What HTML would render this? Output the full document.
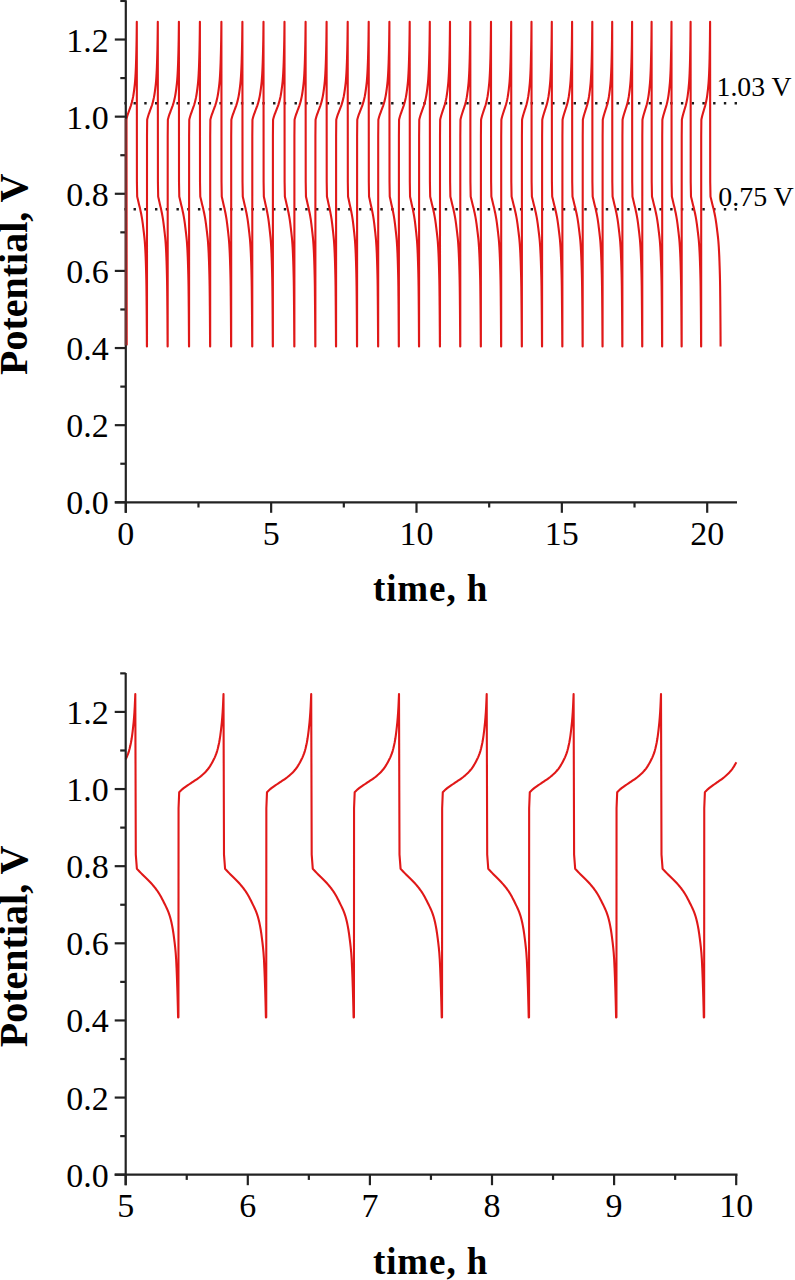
<!DOCTYPE html>
<html><head><meta charset="utf-8"><title>Potential vs time</title>
<style>
html,body{margin:0;padding:0;background:#fff;}
body{width:795px;height:1280px;overflow:hidden;font-family:"Liberation Serif",serif;}
svg{display:block;}
</style></head><body>
<svg width="795" height="1280" viewBox="0 0 795 1280">
<line x1="124.4" y1="103.30" x2="737" y2="103.30" stroke="#1a1a1a" stroke-width="2.4" stroke-dasharray="2.4 8.333" stroke-dashoffset="1.6"/>
<line x1="124.4" y1="209.20" x2="737" y2="209.20" stroke="#1a1a1a" stroke-width="2.4" stroke-dasharray="2.4 8.333" stroke-dashoffset="1.6"/>
<path d="M126.60,345.34 L126.30,119.74 L126.66,118.27 L127.01,116.93 L127.35,115.76 L127.69,114.70 L128.03,113.71 L128.36,112.77 L128.69,111.85 L129.01,110.93 L129.33,110.01 L129.64,109.14 L129.95,108.30 L130.25,107.47 L130.55,106.63 L130.84,105.77 L131.12,104.87 L131.41,103.91 L131.68,102.93 L131.95,101.91 L132.22,100.86 L132.47,99.76 L132.73,98.61 L132.98,97.40 L133.22,96.13 L133.45,94.73 L133.68,93.22 L133.91,91.64 L134.12,90.01 L134.33,88.35 L134.54,86.68 L134.74,84.93 L134.93,83.04 L135.11,80.98 L135.29,78.67 L135.46,76.07 L135.62,73.20 L135.77,70.10 L135.92,66.64 L136.05,62.67 L136.18,58.42 L136.30,54.07 L136.41,49.59 L136.51,44.81 L136.60,39.74 L136.67,34.04 L136.73,28.44 L136.78,23.97 L136.80,21.70 L136.92,182.21 L137.18,196.48 L137.51,197.92 L137.83,199.33 L138.15,200.72 L138.47,202.08 L138.78,203.41 L139.09,204.68 L139.39,205.90 L139.69,207.12 L139.98,208.35 L140.27,209.62 L140.55,210.93 L140.83,212.24 L141.11,213.58 L141.38,214.95 L141.64,216.37 L141.90,217.87 L142.16,219.44 L142.41,221.13 L142.66,222.89 L142.90,224.71 L143.13,226.58 L143.36,228.45 L143.58,230.34 L143.80,232.19 L144.01,234.00 L144.22,235.82 L144.42,237.71 L144.62,239.74 L144.81,241.93 L144.99,244.37 L145.17,247.13 L145.34,250.17 L145.50,253.46 L145.66,257.12 L145.81,261.25 L145.95,265.67 L146.08,270.21 L146.21,274.90 L146.33,280.26 L146.44,286.77 L146.54,295.89 L146.63,305.62 L146.71,315.84 L146.78,325.97 L146.84,335.29 L146.88,342.69 L146.90,346.50 L146.98,346.50 L147.01,135.93 L147.16,119.74 L147.52,118.27 L147.88,116.93 L148.23,115.76 L148.57,114.70 L148.91,113.71 L149.25,112.77 L149.58,111.85 L149.91,110.93 L150.23,110.01 L150.55,109.14 L150.86,108.30 L151.16,107.47 L151.46,106.63 L151.76,105.77 L152.05,104.87 L152.33,103.91 L152.61,102.93 L152.89,101.91 L153.16,100.86 L153.42,99.76 L153.67,98.61 L153.93,97.40 L154.17,96.13 L154.41,94.73 L154.64,93.22 L154.87,91.64 L155.09,90.01 L155.30,88.35 L155.51,86.68 L155.71,84.93 L155.90,83.04 L156.09,80.98 L156.27,78.67 L156.44,76.07 L156.60,73.20 L156.76,70.10 L156.91,66.64 L157.04,62.67 L157.17,58.42 L157.29,54.07 L157.41,49.59 L157.50,44.81 L157.59,39.74 L157.67,34.04 L157.73,28.44 L157.78,23.97 L157.80,21.70 L157.92,182.21 L158.17,196.48 L158.49,197.92 L158.80,199.33 L159.11,200.72 L159.42,202.08 L159.72,203.41 L160.02,204.68 L160.31,205.90 L160.60,207.12 L160.89,208.35 L161.17,209.62 L161.44,210.93 L161.71,212.24 L161.98,213.58 L162.24,214.95 L162.50,216.37 L162.75,217.87 L163.00,219.44 L163.24,221.13 L163.48,222.89 L163.71,224.71 L163.94,226.58 L164.16,228.45 L164.38,230.34 L164.59,232.19 L164.80,234.00 L165.00,235.82 L165.20,237.71 L165.39,239.74 L165.57,241.93 L165.75,244.37 L165.92,247.13 L166.08,250.17 L166.24,253.46 L166.39,257.12 L166.54,261.25 L166.68,265.67 L166.81,270.21 L166.93,274.90 L167.05,280.26 L167.15,286.77 L167.25,295.89 L167.34,305.62 L167.42,315.84 L167.48,325.97 L167.54,335.29 L167.58,342.69 L167.60,346.50 L167.68,346.50 L167.71,135.93 L167.86,119.74 L168.24,118.27 L168.60,116.93 L168.97,115.76 L169.33,114.70 L169.68,113.71 L170.03,112.77 L170.37,111.85 L170.71,110.93 L171.04,110.01 L171.37,109.14 L171.70,108.30 L172.01,107.47 L172.32,106.63 L172.63,105.77 L172.93,104.87 L173.23,103.91 L173.52,102.93 L173.80,101.91 L174.08,100.86 L174.35,99.76 L174.62,98.61 L174.88,97.40 L175.13,96.13 L175.38,94.73 L175.62,93.22 L175.86,91.64 L176.09,90.01 L176.31,88.35 L176.52,86.68 L176.73,84.93 L176.93,83.04 L177.12,80.98 L177.31,78.67 L177.49,76.07 L177.66,73.20 L177.82,70.10 L177.97,66.64 L178.12,62.67 L178.25,58.42 L178.38,54.07 L178.49,49.59 L178.59,44.81 L178.69,39.74 L178.76,34.04 L178.83,28.44 L178.88,23.97 L178.90,21.70 L179.02,182.21 L179.28,196.48 L179.61,197.92 L179.93,199.33 L180.25,200.72 L180.57,202.08 L180.88,203.41 L181.19,204.68 L181.49,205.90 L181.79,207.12 L182.08,208.35 L182.37,209.62 L182.65,210.93 L182.93,212.24 L183.21,213.58 L183.48,214.95 L183.74,216.37 L184.00,217.87 L184.26,219.44 L184.51,221.13 L184.76,222.89 L185.00,224.71 L185.23,226.58 L185.46,228.45 L185.68,230.34 L185.90,232.19 L186.11,234.00 L186.32,235.82 L186.52,237.71 L186.72,239.74 L186.91,241.93 L187.09,244.37 L187.27,247.13 L187.44,250.17 L187.60,253.46 L187.76,257.12 L187.91,261.25 L188.05,265.67 L188.18,270.21 L188.31,274.90 L188.43,280.26 L188.54,286.77 L188.64,295.89 L188.73,305.62 L188.81,315.84 L188.88,325.97 L188.94,335.29 L188.98,342.69 L189.00,346.50 L189.08,346.50 L189.11,135.93 L189.26,119.74 L189.62,118.27 L189.98,116.93 L190.33,115.76 L190.67,114.70 L191.01,113.71 L191.35,112.77 L191.68,111.85 L192.01,110.93 L192.33,110.01 L192.65,109.14 L192.96,108.30 L193.26,107.47 L193.56,106.63 L193.86,105.77 L194.15,104.87 L194.43,103.91 L194.71,102.93 L194.99,101.91 L195.26,100.86 L195.52,99.76 L195.77,98.61 L196.03,97.40 L196.27,96.13 L196.51,94.73 L196.74,93.22 L196.97,91.64 L197.19,90.01 L197.40,88.35 L197.61,86.68 L197.81,84.93 L198.00,83.04 L198.19,80.98 L198.37,78.67 L198.54,76.07 L198.70,73.20 L198.86,70.10 L199.01,66.64 L199.14,62.67 L199.27,58.42 L199.39,54.07 L199.51,49.59 L199.60,44.81 L199.69,39.74 L199.77,34.04 L199.83,28.44 L199.88,23.97 L199.90,21.70 L200.02,182.21 L200.28,196.48 L200.61,197.92 L200.94,199.33 L201.27,200.72 L201.58,202.08 L201.90,203.41 L202.21,204.68 L202.52,205.90 L202.82,207.12 L203.11,208.35 L203.40,209.62 L203.69,210.93 L203.97,212.24 L204.25,213.58 L204.52,214.95 L204.79,216.37 L205.06,217.87 L205.31,219.44 L205.57,221.13 L205.81,222.89 L206.06,224.71 L206.29,226.58 L206.52,228.45 L206.75,230.34 L206.97,232.19 L207.19,234.00 L207.39,235.82 L207.60,237.71 L207.80,239.74 L207.99,241.93 L208.17,244.37 L208.35,247.13 L208.52,250.17 L208.69,253.46 L208.84,257.12 L209.00,261.25 L209.14,265.67 L209.27,270.21 L209.40,274.90 L209.52,280.26 L209.63,286.77 L209.74,295.89 L209.83,305.62 L209.91,315.84 L209.98,325.97 L210.04,335.29 L210.08,342.69 L210.10,346.50 L210.18,346.50 L210.21,135.93 L210.36,119.74 L210.74,118.27 L211.10,116.93 L211.47,115.76 L211.83,114.70 L212.18,113.71 L212.53,112.77 L212.87,111.85 L213.21,110.93 L213.54,110.01 L213.87,109.14 L214.20,108.30 L214.51,107.47 L214.82,106.63 L215.13,105.77 L215.43,104.87 L215.73,103.91 L216.02,102.93 L216.30,101.91 L216.58,100.86 L216.85,99.76 L217.12,98.61 L217.38,97.40 L217.63,96.13 L217.88,94.73 L218.12,93.22 L218.36,91.64 L218.59,90.01 L218.81,88.35 L219.02,86.68 L219.23,84.93 L219.43,83.04 L219.62,80.98 L219.81,78.67 L219.99,76.07 L220.16,73.20 L220.32,70.10 L220.47,66.64 L220.62,62.67 L220.75,58.42 L220.88,54.07 L220.99,49.59 L221.09,44.81 L221.19,39.74 L221.26,34.04 L221.33,28.44 L221.38,23.97 L221.40,21.70 L221.52,182.21 L221.76,196.48 L222.08,197.92 L222.39,199.33 L222.70,200.72 L223.00,202.08 L223.30,203.41 L223.60,204.68 L223.89,205.90 L224.17,207.12 L224.46,208.35 L224.73,209.62 L225.01,210.93 L225.27,212.24 L225.54,213.58 L225.80,214.95 L226.05,216.37 L226.30,217.87 L226.55,219.44 L226.79,221.13 L227.02,222.89 L227.25,224.71 L227.48,226.58 L227.70,228.45 L227.91,230.34 L228.12,232.19 L228.33,234.00 L228.53,235.82 L228.72,237.71 L228.91,239.74 L229.09,241.93 L229.27,244.37 L229.43,247.13 L229.60,250.17 L229.76,253.46 L229.91,257.12 L230.05,261.25 L230.19,265.67 L230.32,270.21 L230.44,274.90 L230.55,280.26 L230.66,286.77 L230.75,295.89 L230.84,305.62 L230.92,315.84 L230.99,325.97 L231.04,335.29 L231.08,342.69 L231.10,346.50 L231.18,346.50 L231.21,135.93 L231.36,119.74 L231.74,118.27 L232.10,116.93 L232.47,115.76 L232.83,114.70 L233.18,113.71 L233.53,112.77 L233.87,111.85 L234.21,110.93 L234.54,110.01 L234.87,109.14 L235.20,108.30 L235.51,107.47 L235.82,106.63 L236.13,105.77 L236.43,104.87 L236.73,103.91 L237.02,102.93 L237.30,101.91 L237.58,100.86 L237.85,99.76 L238.12,98.61 L238.38,97.40 L238.63,96.13 L238.88,94.73 L239.12,93.22 L239.36,91.64 L239.59,90.01 L239.81,88.35 L240.02,86.68 L240.23,84.93 L240.43,83.04 L240.62,80.98 L240.81,78.67 L240.99,76.07 L241.16,73.20 L241.32,70.10 L241.47,66.64 L241.62,62.67 L241.75,58.42 L241.88,54.07 L241.99,49.59 L242.09,44.81 L242.19,39.74 L242.26,34.04 L242.33,28.44 L242.38,23.97 L242.40,21.70 L242.52,182.21 L242.77,196.48 L243.09,197.92 L243.40,199.33 L243.71,200.72 L244.02,202.08 L244.32,203.41 L244.62,204.68 L244.91,205.90 L245.20,207.12 L245.49,208.35 L245.77,209.62 L246.04,210.93 L246.31,212.24 L246.58,213.58 L246.84,214.95 L247.10,216.37 L247.35,217.87 L247.60,219.44 L247.84,221.13 L248.08,222.89 L248.31,224.71 L248.54,226.58 L248.76,228.45 L248.98,230.34 L249.19,232.19 L249.40,234.00 L249.60,235.82 L249.80,237.71 L249.99,239.74 L250.17,241.93 L250.35,244.37 L250.52,247.13 L250.68,250.17 L250.84,253.46 L250.99,257.12 L251.14,261.25 L251.28,265.67 L251.41,270.21 L251.53,274.90 L251.65,280.26 L251.75,286.77 L251.85,295.89 L251.94,305.62 L252.02,315.84 L252.08,325.97 L252.14,335.29 L252.18,342.69 L252.20,346.50 L252.28,346.50 L252.31,135.93 L252.46,119.74 L252.84,118.27 L253.20,116.93 L253.57,115.76 L253.93,114.70 L254.28,113.71 L254.63,112.77 L254.97,111.85 L255.31,110.93 L255.64,110.01 L255.97,109.14 L256.30,108.30 L256.61,107.47 L256.92,106.63 L257.23,105.77 L257.53,104.87 L257.83,103.91 L258.12,102.93 L258.40,101.91 L258.68,100.86 L258.95,99.76 L259.22,98.61 L259.48,97.40 L259.73,96.13 L259.98,94.73 L260.22,93.22 L260.46,91.64 L260.69,90.01 L260.91,88.35 L261.12,86.68 L261.33,84.93 L261.53,83.04 L261.72,80.98 L261.91,78.67 L262.09,76.07 L262.26,73.20 L262.42,70.10 L262.57,66.64 L262.72,62.67 L262.85,58.42 L262.98,54.07 L263.09,49.59 L263.19,44.81 L263.29,39.74 L263.36,34.04 L263.43,28.44 L263.48,23.97 L263.50,21.70 L263.62,182.21 L263.85,196.48 L264.15,197.92 L264.45,199.33 L264.75,200.72 L265.04,202.08 L265.32,203.41 L265.61,204.68 L265.88,205.90 L266.16,207.12 L266.43,208.35 L266.70,209.62 L266.96,210.93 L267.21,212.24 L267.47,213.58 L267.72,214.95 L267.96,216.37 L268.20,217.87 L268.44,219.44 L268.67,221.13 L268.89,222.89 L269.11,224.71 L269.33,226.58 L269.54,228.45 L269.75,230.34 L269.95,232.19 L270.14,234.00 L270.33,235.82 L270.52,237.71 L270.70,239.74 L270.87,241.93 L271.04,244.37 L271.20,247.13 L271.36,250.17 L271.51,253.46 L271.65,257.12 L271.79,261.25 L271.92,265.67 L272.05,270.21 L272.16,274.90 L272.27,280.26 L272.37,286.77 L272.47,295.89 L272.55,305.62 L272.63,315.84 L272.69,325.97 L272.74,335.29 L272.78,342.69 L272.80,346.50 L272.88,346.50 L272.91,135.93 L273.06,119.74 L273.45,118.27 L273.83,116.93 L274.21,115.76 L274.58,114.70 L274.95,113.71 L275.31,112.77 L275.66,111.85 L276.01,110.93 L276.36,110.01 L276.70,109.14 L277.03,108.30 L277.36,107.47 L277.69,106.63 L278.00,105.77 L278.32,104.87 L278.62,103.91 L278.92,102.93 L279.22,101.91 L279.51,100.86 L279.79,99.76 L280.06,98.61 L280.33,97.40 L280.60,96.13 L280.85,94.73 L281.10,93.22 L281.35,91.64 L281.58,90.01 L281.81,88.35 L282.04,86.68 L282.25,84.93 L282.46,83.04 L282.66,80.98 L282.85,78.67 L283.04,76.07 L283.21,73.20 L283.38,70.10 L283.54,66.64 L283.69,62.67 L283.83,58.42 L283.96,54.07 L284.08,49.59 L284.18,44.81 L284.28,39.74 L284.36,34.04 L284.43,28.44 L284.48,23.97 L284.50,21.70 L284.62,182.21 L284.87,196.48 L285.19,197.92 L285.50,199.33 L285.81,200.72 L286.12,202.08 L286.42,203.41 L286.72,204.68 L287.01,205.90 L287.30,207.12 L287.59,208.35 L287.87,209.62 L288.14,210.93 L288.41,212.24 L288.68,213.58 L288.94,214.95 L289.20,216.37 L289.45,217.87 L289.70,219.44 L289.94,221.13 L290.18,222.89 L290.41,224.71 L290.64,226.58 L290.86,228.45 L291.08,230.34 L291.29,232.19 L291.50,234.00 L291.70,235.82 L291.90,237.71 L292.09,239.74 L292.27,241.93 L292.45,244.37 L292.62,247.13 L292.78,250.17 L292.94,253.46 L293.09,257.12 L293.24,261.25 L293.38,265.67 L293.51,270.21 L293.63,274.90 L293.75,280.26 L293.85,286.77 L293.95,295.89 L294.04,305.62 L294.12,315.84 L294.18,325.97 L294.24,335.29 L294.28,342.69 L294.30,346.50 L294.38,346.50 L294.41,135.93 L294.56,119.74 L294.94,118.27 L295.30,116.93 L295.67,115.76 L296.03,114.70 L296.38,113.71 L296.73,112.77 L297.07,111.85 L297.41,110.93 L297.74,110.01 L298.07,109.14 L298.40,108.30 L298.71,107.47 L299.02,106.63 L299.33,105.77 L299.63,104.87 L299.93,103.91 L300.22,102.93 L300.50,101.91 L300.78,100.86 L301.05,99.76 L301.32,98.61 L301.58,97.40 L301.83,96.13 L302.08,94.73 L302.32,93.22 L302.56,91.64 L302.79,90.01 L303.01,88.35 L303.22,86.68 L303.43,84.93 L303.63,83.04 L303.82,80.98 L304.01,78.67 L304.19,76.07 L304.36,73.20 L304.52,70.10 L304.67,66.64 L304.82,62.67 L304.95,58.42 L305.08,54.07 L305.19,49.59 L305.29,44.81 L305.39,39.74 L305.46,34.04 L305.53,28.44 L305.58,23.97 L305.60,21.70 L305.72,182.21 L305.96,196.48 L306.28,197.92 L306.59,199.33 L306.90,200.72 L307.20,202.08 L307.50,203.41 L307.80,204.68 L308.09,205.90 L308.37,207.12 L308.66,208.35 L308.93,209.62 L309.21,210.93 L309.47,212.24 L309.74,213.58 L310.00,214.95 L310.25,216.37 L310.50,217.87 L310.75,219.44 L310.99,221.13 L311.22,222.89 L311.45,224.71 L311.68,226.58 L311.90,228.45 L312.11,230.34 L312.32,232.19 L312.53,234.00 L312.73,235.82 L312.92,237.71 L313.11,239.74 L313.29,241.93 L313.47,244.37 L313.63,247.13 L313.80,250.17 L313.96,253.46 L314.11,257.12 L314.25,261.25 L314.39,265.67 L314.52,270.21 L314.64,274.90 L314.75,280.26 L314.86,286.77 L314.95,295.89 L315.04,305.62 L315.12,315.84 L315.19,325.97 L315.24,335.29 L315.28,342.69 L315.30,346.50 L315.38,346.50 L315.41,135.93 L315.56,119.74 L315.94,118.27 L316.30,116.93 L316.67,115.76 L317.03,114.70 L317.38,113.71 L317.73,112.77 L318.07,111.85 L318.41,110.93 L318.74,110.01 L319.07,109.14 L319.40,108.30 L319.71,107.47 L320.02,106.63 L320.33,105.77 L320.63,104.87 L320.93,103.91 L321.22,102.93 L321.50,101.91 L321.78,100.86 L322.05,99.76 L322.32,98.61 L322.58,97.40 L322.83,96.13 L323.08,94.73 L323.32,93.22 L323.56,91.64 L323.79,90.01 L324.01,88.35 L324.22,86.68 L324.43,84.93 L324.63,83.04 L324.82,80.98 L325.01,78.67 L325.19,76.07 L325.36,73.20 L325.52,70.10 L325.67,66.64 L325.82,62.67 L325.95,58.42 L326.08,54.07 L326.19,49.59 L326.29,44.81 L326.39,39.74 L326.46,34.04 L326.53,28.44 L326.58,23.97 L326.60,21.70 L326.72,182.21 L326.95,196.48 L327.26,197.92 L327.56,199.33 L327.86,200.72 L328.15,202.08 L328.44,203.41 L328.73,204.68 L329.01,205.90 L329.29,207.12 L329.56,208.35 L329.83,209.62 L330.09,210.93 L330.35,212.24 L330.61,213.58 L330.86,214.95 L331.11,216.37 L331.35,217.87 L331.59,219.44 L331.82,221.13 L332.05,222.89 L332.27,224.71 L332.49,226.58 L332.70,228.45 L332.91,230.34 L333.12,232.19 L333.31,234.00 L333.51,235.82 L333.69,237.71 L333.88,239.74 L334.05,241.93 L334.22,244.37 L334.39,247.13 L334.54,250.17 L334.70,253.46 L334.84,257.12 L334.98,261.25 L335.11,265.67 L335.24,270.21 L335.36,274.90 L335.47,280.26 L335.57,286.77 L335.66,295.89 L335.75,305.62 L335.82,315.84 L335.89,325.97 L335.94,335.29 L335.98,342.69 L336.00,346.50 L336.08,346.50 L336.11,135.93 L336.26,119.74 L336.65,118.27 L337.03,116.93 L337.41,115.76 L337.78,114.70 L338.15,113.71 L338.51,112.77 L338.86,111.85 L339.21,110.93 L339.56,110.01 L339.90,109.14 L340.23,108.30 L340.56,107.47 L340.89,106.63 L341.20,105.77 L341.52,104.87 L341.82,103.91 L342.12,102.93 L342.42,101.91 L342.71,100.86 L342.99,99.76 L343.26,98.61 L343.53,97.40 L343.80,96.13 L344.05,94.73 L344.30,93.22 L344.55,91.64 L344.78,90.01 L345.01,88.35 L345.24,86.68 L345.45,84.93 L345.66,83.04 L345.86,80.98 L346.05,78.67 L346.24,76.07 L346.41,73.20 L346.58,70.10 L346.74,66.64 L346.89,62.67 L347.03,58.42 L347.16,54.07 L347.28,49.59 L347.38,44.81 L347.48,39.74 L347.56,34.04 L347.63,28.44 L347.68,23.97 L347.70,21.70 L347.82,182.21 L348.05,196.48 L348.35,197.92 L348.65,199.33 L348.95,200.72 L349.24,202.08 L349.52,203.41 L349.81,204.68 L350.08,205.90 L350.36,207.12 L350.63,208.35 L350.90,209.62 L351.16,210.93 L351.41,212.24 L351.67,213.58 L351.92,214.95 L352.16,216.37 L352.40,217.87 L352.64,219.44 L352.87,221.13 L353.09,222.89 L353.31,224.71 L353.53,226.58 L353.74,228.45 L353.95,230.34 L354.15,232.19 L354.34,234.00 L354.53,235.82 L354.72,237.71 L354.90,239.74 L355.07,241.93 L355.24,244.37 L355.40,247.13 L355.56,250.17 L355.71,253.46 L355.85,257.12 L355.99,261.25 L356.12,265.67 L356.25,270.21 L356.36,274.90 L356.47,280.26 L356.57,286.77 L356.67,295.89 L356.75,305.62 L356.83,315.84 L356.89,325.97 L356.94,335.29 L356.98,342.69 L357.00,346.50 L357.08,346.50 L357.11,135.93 L357.26,119.74 L357.65,118.27 L358.03,116.93 L358.41,115.76 L358.78,114.70 L359.15,113.71 L359.51,112.77 L359.86,111.85 L360.21,110.93 L360.56,110.01 L360.90,109.14 L361.23,108.30 L361.56,107.47 L361.89,106.63 L362.20,105.77 L362.52,104.87 L362.82,103.91 L363.12,102.93 L363.42,101.91 L363.71,100.86 L363.99,99.76 L364.26,98.61 L364.53,97.40 L364.80,96.13 L365.05,94.73 L365.30,93.22 L365.55,91.64 L365.78,90.01 L366.01,88.35 L366.24,86.68 L366.45,84.93 L366.66,83.04 L366.86,80.98 L367.05,78.67 L367.24,76.07 L367.41,73.20 L367.58,70.10 L367.74,66.64 L367.89,62.67 L368.03,58.42 L368.16,54.07 L368.28,49.59 L368.38,44.81 L368.48,39.74 L368.56,34.04 L368.63,28.44 L368.68,23.97 L368.70,21.70 L368.82,182.21 L369.05,196.48 L369.36,197.92 L369.66,199.33 L369.96,200.72 L370.25,202.08 L370.54,203.41 L370.83,204.68 L371.11,205.90 L371.39,207.12 L371.66,208.35 L371.93,209.62 L372.19,210.93 L372.45,212.24 L372.71,213.58 L372.96,214.95 L373.21,216.37 L373.45,217.87 L373.69,219.44 L373.92,221.13 L374.15,222.89 L374.37,224.71 L374.59,226.58 L374.80,228.45 L375.01,230.34 L375.22,232.19 L375.41,234.00 L375.61,235.82 L375.79,237.71 L375.98,239.74 L376.15,241.93 L376.32,244.37 L376.49,247.13 L376.64,250.17 L376.80,253.46 L376.94,257.12 L377.08,261.25 L377.21,265.67 L377.34,270.21 L377.46,274.90 L377.57,280.26 L377.67,286.77 L377.76,295.89 L377.85,305.62 L377.92,315.84 L377.99,325.97 L378.04,335.29 L378.08,342.69 L378.10,346.50 L378.18,346.50 L378.21,135.93 L378.36,119.74 L378.74,118.27 L379.10,116.93 L379.47,115.76 L379.83,114.70 L380.18,113.71 L380.53,112.77 L380.87,111.85 L381.21,110.93 L381.54,110.01 L381.87,109.14 L382.20,108.30 L382.51,107.47 L382.82,106.63 L383.13,105.77 L383.43,104.87 L383.73,103.91 L384.02,102.93 L384.30,101.91 L384.58,100.86 L384.85,99.76 L385.12,98.61 L385.38,97.40 L385.63,96.13 L385.88,94.73 L386.12,93.22 L386.36,91.64 L386.59,90.01 L386.81,88.35 L387.02,86.68 L387.23,84.93 L387.43,83.04 L387.62,80.98 L387.81,78.67 L387.99,76.07 L388.16,73.20 L388.32,70.10 L388.47,66.64 L388.62,62.67 L388.75,58.42 L388.88,54.07 L388.99,49.59 L389.09,44.81 L389.19,39.74 L389.26,34.04 L389.33,28.44 L389.38,23.97 L389.40,21.70 L389.52,182.21 L389.75,196.48 L390.06,197.92 L390.36,199.33 L390.66,200.72 L390.95,202.08 L391.24,203.41 L391.53,204.68 L391.81,205.90 L392.09,207.12 L392.36,208.35 L392.63,209.62 L392.89,210.93 L393.15,212.24 L393.41,213.58 L393.66,214.95 L393.91,216.37 L394.15,217.87 L394.39,219.44 L394.62,221.13 L394.85,222.89 L395.07,224.71 L395.29,226.58 L395.50,228.45 L395.71,230.34 L395.92,232.19 L396.11,234.00 L396.31,235.82 L396.49,237.71 L396.68,239.74 L396.85,241.93 L397.02,244.37 L397.19,247.13 L397.34,250.17 L397.50,253.46 L397.64,257.12 L397.78,261.25 L397.91,265.67 L398.04,270.21 L398.16,274.90 L398.27,280.26 L398.37,286.77 L398.46,295.89 L398.55,305.62 L398.62,315.84 L398.69,325.97 L398.74,335.29 L398.78,342.69 L398.80,346.50 L398.88,346.50 L398.91,135.93 L399.06,119.74 L399.42,118.27 L399.78,116.93 L400.13,115.76 L400.47,114.70 L400.81,113.71 L401.15,112.77 L401.48,111.85 L401.81,110.93 L402.13,110.01 L402.45,109.14 L402.76,108.30 L403.06,107.47 L403.36,106.63 L403.66,105.77 L403.95,104.87 L404.23,103.91 L404.51,102.93 L404.79,101.91 L405.06,100.86 L405.32,99.76 L405.57,98.61 L405.83,97.40 L406.07,96.13 L406.31,94.73 L406.54,93.22 L406.77,91.64 L406.99,90.01 L407.20,88.35 L407.41,86.68 L407.61,84.93 L407.80,83.04 L407.99,80.98 L408.17,78.67 L408.34,76.07 L408.50,73.20 L408.66,70.10 L408.81,66.64 L408.94,62.67 L409.07,58.42 L409.19,54.07 L409.31,49.59 L409.40,44.81 L409.49,39.74 L409.57,34.04 L409.63,28.44 L409.68,23.97 L409.70,21.70 L409.82,182.21 L410.05,196.48 L410.35,197.92 L410.65,199.33 L410.95,200.72 L411.24,202.08 L411.52,203.41 L411.81,204.68 L412.08,205.90 L412.36,207.12 L412.63,208.35 L412.90,209.62 L413.16,210.93 L413.41,212.24 L413.67,213.58 L413.92,214.95 L414.16,216.37 L414.40,217.87 L414.64,219.44 L414.87,221.13 L415.09,222.89 L415.31,224.71 L415.53,226.58 L415.74,228.45 L415.95,230.34 L416.15,232.19 L416.34,234.00 L416.53,235.82 L416.72,237.71 L416.90,239.74 L417.07,241.93 L417.24,244.37 L417.40,247.13 L417.56,250.17 L417.71,253.46 L417.85,257.12 L417.99,261.25 L418.12,265.67 L418.25,270.21 L418.36,274.90 L418.47,280.26 L418.57,286.77 L418.67,295.89 L418.75,305.62 L418.83,315.84 L418.89,325.97 L418.94,335.29 L418.98,342.69 L419.00,346.50 L419.08,346.50 L419.11,135.93 L419.26,119.74 L419.62,118.27 L419.97,116.93 L420.32,115.76 L420.66,114.70 L421.00,113.71 L421.33,112.77 L421.66,111.85 L421.98,110.93 L422.30,110.01 L422.61,109.14 L422.92,108.30 L423.22,107.47 L423.52,106.63 L423.82,105.77 L424.10,104.87 L424.39,103.91 L424.66,102.93 L424.93,101.91 L425.20,100.86 L425.46,99.76 L425.71,98.61 L425.96,97.40 L426.20,96.13 L426.44,94.73 L426.67,93.22 L426.90,91.64 L427.11,90.01 L427.33,88.35 L427.53,86.68 L427.73,84.93 L427.92,83.04 L428.11,80.98 L428.28,78.67 L428.45,76.07 L428.61,73.20 L428.77,70.10 L428.91,66.64 L429.05,62.67 L429.18,58.42 L429.30,54.07 L429.41,49.59 L429.51,44.81 L429.60,39.74 L429.67,34.04 L429.73,28.44 L429.78,23.97 L429.80,21.70 L429.92,182.21 L430.18,196.48 L430.51,197.92 L430.83,199.33 L431.15,200.72 L431.47,202.08 L431.78,203.41 L432.09,204.68 L432.39,205.90 L432.69,207.12 L432.98,208.35 L433.27,209.62 L433.55,210.93 L433.83,212.24 L434.11,213.58 L434.38,214.95 L434.64,216.37 L434.90,217.87 L435.16,219.44 L435.41,221.13 L435.66,222.89 L435.90,224.71 L436.13,226.58 L436.36,228.45 L436.58,230.34 L436.80,232.19 L437.01,234.00 L437.22,235.82 L437.42,237.71 L437.62,239.74 L437.81,241.93 L437.99,244.37 L438.17,247.13 L438.34,250.17 L438.50,253.46 L438.66,257.12 L438.81,261.25 L438.95,265.67 L439.08,270.21 L439.21,274.90 L439.33,280.26 L439.44,286.77 L439.54,295.89 L439.63,305.62 L439.71,315.84 L439.78,325.97 L439.84,335.29 L439.88,342.69 L439.90,346.50 L439.98,346.50 L440.01,135.93 L440.16,119.74 L440.49,118.27 L440.82,116.93 L441.15,115.76 L441.47,114.70 L441.78,113.71 L442.09,112.77 L442.40,111.85 L442.70,110.93 L443.00,110.01 L443.29,109.14 L443.58,108.30 L443.86,107.47 L444.14,106.63 L444.41,105.77 L444.68,104.87 L444.94,103.91 L445.20,102.93 L445.46,101.91 L445.70,100.86 L445.95,99.76 L446.18,98.61 L446.42,97.40 L446.64,96.13 L446.86,94.73 L447.08,93.22 L447.29,91.64 L447.49,90.01 L447.69,88.35 L447.88,86.68 L448.07,84.93 L448.25,83.04 L448.42,80.98 L448.58,78.67 L448.74,76.07 L448.89,73.20 L449.04,70.10 L449.17,66.64 L449.30,62.67 L449.42,58.42 L449.53,54.07 L449.63,49.59 L449.73,44.81 L449.81,39.74 L449.88,34.04 L449.94,28.44 L449.98,23.97 L450.00,21.70 L450.12,182.21 L450.38,196.48 L450.71,197.92 L451.04,199.33 L451.37,200.72 L451.68,202.08 L452.00,203.41 L452.31,204.68 L452.62,205.90 L452.92,207.12 L453.21,208.35 L453.50,209.62 L453.79,210.93 L454.07,212.24 L454.35,213.58 L454.62,214.95 L454.89,216.37 L455.16,217.87 L455.41,219.44 L455.67,221.13 L455.91,222.89 L456.16,224.71 L456.39,226.58 L456.62,228.45 L456.85,230.34 L457.07,232.19 L457.29,234.00 L457.49,235.82 L457.70,237.71 L457.90,239.74 L458.09,241.93 L458.27,244.37 L458.45,247.13 L458.62,250.17 L458.79,253.46 L458.94,257.12 L459.10,261.25 L459.24,265.67 L459.37,270.21 L459.50,274.90 L459.62,280.26 L459.73,286.77 L459.84,295.89 L459.93,305.62 L460.01,315.84 L460.08,325.97 L460.14,335.29 L460.18,342.69 L460.20,346.50 L460.28,346.50 L460.31,135.93 L460.46,119.74 L460.79,118.27 L461.12,116.93 L461.45,115.76 L461.77,114.70 L462.08,113.71 L462.39,112.77 L462.70,111.85 L463.00,110.93 L463.30,110.01 L463.59,109.14 L463.88,108.30 L464.16,107.47 L464.44,106.63 L464.71,105.77 L464.98,104.87 L465.24,103.91 L465.50,102.93 L465.76,101.91 L466.00,100.86 L466.25,99.76 L466.48,98.61 L466.72,97.40 L466.94,96.13 L467.16,94.73 L467.38,93.22 L467.59,91.64 L467.79,90.01 L467.99,88.35 L468.18,86.68 L468.37,84.93 L468.55,83.04 L468.72,80.98 L468.88,78.67 L469.04,76.07 L469.19,73.20 L469.34,70.10 L469.47,66.64 L469.60,62.67 L469.72,58.42 L469.83,54.07 L469.93,49.59 L470.03,44.81 L470.11,39.74 L470.18,34.04 L470.24,28.44 L470.28,23.97 L470.30,21.70 L470.42,182.21 L470.69,196.48 L471.04,197.92 L471.37,199.33 L471.71,200.72 L472.03,202.08 L472.36,203.41 L472.68,204.68 L472.99,205.90 L473.30,207.12 L473.61,208.35 L473.91,209.62 L474.20,210.93 L474.49,212.24 L474.78,213.58 L475.06,214.95 L475.34,216.37 L475.61,217.87 L475.87,219.44 L476.13,221.13 L476.39,222.89 L476.64,224.71 L476.88,226.58 L477.12,228.45 L477.35,230.34 L477.58,232.19 L477.80,234.00 L478.02,235.82 L478.22,237.71 L478.43,239.74 L478.62,241.93 L478.81,244.37 L479.00,247.13 L479.17,250.17 L479.34,253.46 L479.51,257.12 L479.66,261.25 L479.81,265.67 L479.95,270.21 L480.08,274.90 L480.21,280.26 L480.32,286.77 L480.42,295.89 L480.52,305.62 L480.60,315.84 L480.68,325.97 L480.74,335.29 L480.78,342.69 L480.80,346.50 L480.88,346.50 L480.91,135.93 L481.06,119.74 L481.40,118.27 L481.73,116.93 L482.06,115.76 L482.38,114.70 L482.70,113.71 L483.01,112.77 L483.32,111.85 L483.63,110.93 L483.93,110.01 L484.22,109.14 L484.51,108.30 L484.80,107.47 L485.08,106.63 L485.36,105.77 L485.63,104.87 L485.89,103.91 L486.15,102.93 L486.41,101.91 L486.66,100.86 L486.91,99.76 L487.15,98.61 L487.38,97.40 L487.61,96.13 L487.83,94.73 L488.05,93.22 L488.26,91.64 L488.47,90.01 L488.67,88.35 L488.86,86.68 L489.05,84.93 L489.23,83.04 L489.40,80.98 L489.57,78.67 L489.73,76.07 L489.88,73.20 L490.03,70.10 L490.16,66.64 L490.29,62.67 L490.42,58.42 L490.53,54.07 L490.63,49.59 L490.72,44.81 L490.81,39.74 L490.88,34.04 L490.94,28.44 L490.98,23.97 L491.00,21.70 L491.12,182.21 L491.38,196.48 L491.71,197.92 L492.03,199.33 L492.35,200.72 L492.67,202.08 L492.98,203.41 L493.29,204.68 L493.59,205.90 L493.89,207.12 L494.18,208.35 L494.47,209.62 L494.75,210.93 L495.03,212.24 L495.31,213.58 L495.58,214.95 L495.84,216.37 L496.10,217.87 L496.36,219.44 L496.61,221.13 L496.86,222.89 L497.10,224.71 L497.33,226.58 L497.56,228.45 L497.78,230.34 L498.00,232.19 L498.21,234.00 L498.42,235.82 L498.62,237.71 L498.82,239.74 L499.01,241.93 L499.19,244.37 L499.37,247.13 L499.54,250.17 L499.70,253.46 L499.86,257.12 L500.01,261.25 L500.15,265.67 L500.28,270.21 L500.41,274.90 L500.53,280.26 L500.64,286.77 L500.74,295.89 L500.83,305.62 L500.91,315.84 L500.98,325.97 L501.04,335.29 L501.08,342.69 L501.10,346.50 L501.18,346.50 L501.21,135.93 L501.36,119.74 L501.69,118.27 L502.02,116.93 L502.35,115.76 L502.67,114.70 L502.98,113.71 L503.29,112.77 L503.60,111.85 L503.90,110.93 L504.20,110.01 L504.49,109.14 L504.78,108.30 L505.06,107.47 L505.34,106.63 L505.61,105.77 L505.88,104.87 L506.14,103.91 L506.40,102.93 L506.66,101.91 L506.90,100.86 L507.15,99.76 L507.38,98.61 L507.62,97.40 L507.84,96.13 L508.06,94.73 L508.28,93.22 L508.49,91.64 L508.69,90.01 L508.89,88.35 L509.08,86.68 L509.27,84.93 L509.45,83.04 L509.62,80.98 L509.78,78.67 L509.94,76.07 L510.09,73.20 L510.24,70.10 L510.37,66.64 L510.50,62.67 L510.62,58.42 L510.73,54.07 L510.83,49.59 L510.93,44.81 L511.01,39.74 L511.08,34.04 L511.14,28.44 L511.18,23.97 L511.20,21.70 L511.32,182.21 L511.60,196.48 L511.94,197.92 L512.28,199.33 L512.62,200.72 L512.95,202.08 L513.28,203.41 L513.60,204.68 L513.92,205.90 L514.23,207.12 L514.54,208.35 L514.84,209.62 L515.14,210.93 L515.43,212.24 L515.72,213.58 L516.01,214.95 L516.28,216.37 L516.56,217.87 L516.83,219.44 L517.09,221.13 L517.35,222.89 L517.60,224.71 L517.84,226.58 L518.08,228.45 L518.32,230.34 L518.55,232.19 L518.77,234.00 L518.99,235.82 L519.20,237.71 L519.40,239.74 L519.60,241.93 L519.80,244.37 L519.98,247.13 L520.16,250.17 L520.33,253.46 L520.49,257.12 L520.65,261.25 L520.80,265.67 L520.94,270.21 L521.08,274.90 L521.20,280.26 L521.32,286.77 L521.42,295.89 L521.52,305.62 L521.60,315.84 L521.68,325.97 L521.73,335.29 L521.78,342.69 L521.80,346.50 L521.88,346.50 L521.91,135.93 L522.06,119.74 L522.38,118.27 L522.70,116.93 L523.01,115.76 L523.31,114.70 L523.62,113.71 L523.91,112.77 L524.21,111.85 L524.50,110.93 L524.78,110.01 L525.06,109.14 L525.34,108.30 L525.61,107.47 L525.88,106.63 L526.14,105.77 L526.40,104.87 L526.65,103.91 L526.90,102.93 L527.14,101.91 L527.38,100.86 L527.61,99.76 L527.84,98.61 L528.06,97.40 L528.28,96.13 L528.49,94.73 L528.70,93.22 L528.90,91.64 L529.09,90.01 L529.28,88.35 L529.47,86.68 L529.65,84.93 L529.82,83.04 L529.98,80.98 L530.14,78.67 L530.29,76.07 L530.44,73.20 L530.58,70.10 L530.71,66.64 L530.83,62.67 L530.94,58.42 L531.05,54.07 L531.15,49.59 L531.24,44.81 L531.32,39.74 L531.38,34.04 L531.44,28.44 L531.48,23.97 L531.50,21.70 L531.62,182.21 L531.89,196.48 L532.24,197.92 L532.57,199.33 L532.91,200.72 L533.23,202.08 L533.56,203.41 L533.88,204.68 L534.19,205.90 L534.50,207.12 L534.81,208.35 L535.11,209.62 L535.40,210.93 L535.69,212.24 L535.98,213.58 L536.26,214.95 L536.54,216.37 L536.81,217.87 L537.07,219.44 L537.33,221.13 L537.59,222.89 L537.84,224.71 L538.08,226.58 L538.32,228.45 L538.55,230.34 L538.78,232.19 L539.00,234.00 L539.22,235.82 L539.42,237.71 L539.63,239.74 L539.82,241.93 L540.01,244.37 L540.20,247.13 L540.37,250.17 L540.54,253.46 L540.71,257.12 L540.86,261.25 L541.01,265.67 L541.15,270.21 L541.28,274.90 L541.41,280.26 L541.52,286.77 L541.62,295.89 L541.72,305.62 L541.80,315.84 L541.88,325.97 L541.94,335.29 L541.98,342.69 L542.00,346.50 L542.08,346.50 L542.11,135.93 L542.26,119.74 L542.58,118.27 L542.90,116.93 L543.22,115.76 L543.53,114.70 L543.83,113.71 L544.13,112.77 L544.43,111.85 L544.72,110.93 L545.01,110.01 L545.30,109.14 L545.57,108.30 L545.85,107.47 L546.12,106.63 L546.38,105.77 L546.64,104.87 L546.90,103.91 L547.15,102.93 L547.40,101.91 L547.64,100.86 L547.87,99.76 L548.10,98.61 L548.33,97.40 L548.55,96.13 L548.76,94.73 L548.97,93.22 L549.17,91.64 L549.37,90.01 L549.56,88.35 L549.75,86.68 L549.93,84.93 L550.10,83.04 L550.27,80.98 L550.43,78.67 L550.58,76.07 L550.73,73.20 L550.87,70.10 L551.00,66.64 L551.12,62.67 L551.24,58.42 L551.35,54.07 L551.45,49.59 L551.54,44.81 L551.61,39.74 L551.68,34.04 L551.74,28.44 L551.78,23.97 L551.80,21.70 L551.92,182.21 L552.19,196.48 L552.54,197.92 L552.87,199.33 L553.21,200.72 L553.53,202.08 L553.86,203.41 L554.18,204.68 L554.49,205.90 L554.80,207.12 L555.11,208.35 L555.41,209.62 L555.70,210.93 L555.99,212.24 L556.28,213.58 L556.56,214.95 L556.84,216.37 L557.11,217.87 L557.37,219.44 L557.63,221.13 L557.89,222.89 L558.14,224.71 L558.38,226.58 L558.62,228.45 L558.85,230.34 L559.08,232.19 L559.30,234.00 L559.52,235.82 L559.72,237.71 L559.93,239.74 L560.12,241.93 L560.31,244.37 L560.50,247.13 L560.67,250.17 L560.84,253.46 L561.01,257.12 L561.16,261.25 L561.31,265.67 L561.45,270.21 L561.58,274.90 L561.71,280.26 L561.82,286.77 L561.92,295.89 L562.02,305.62 L562.10,315.84 L562.18,325.97 L562.24,335.29 L562.28,342.69 L562.30,346.50 L562.38,346.50 L562.41,135.93 L562.56,119.74 L562.88,118.27 L563.20,116.93 L563.52,115.76 L563.83,114.70 L564.13,113.71 L564.43,112.77 L564.73,111.85 L565.02,110.93 L565.31,110.01 L565.60,109.14 L565.87,108.30 L566.15,107.47 L566.42,106.63 L566.68,105.77 L566.94,104.87 L567.20,103.91 L567.45,102.93 L567.70,101.91 L567.94,100.86 L568.17,99.76 L568.40,98.61 L568.63,97.40 L568.85,96.13 L569.06,94.73 L569.27,93.22 L569.47,91.64 L569.67,90.01 L569.86,88.35 L570.05,86.68 L570.23,84.93 L570.40,83.04 L570.57,80.98 L570.73,78.67 L570.88,76.07 L571.03,73.20 L571.17,70.10 L571.30,66.64 L571.42,62.67 L571.54,58.42 L571.65,54.07 L571.75,49.59 L571.84,44.81 L571.91,39.74 L571.98,34.04 L572.04,28.44 L572.08,23.97 L572.10,21.70 L572.22,182.21 L572.49,196.48 L572.84,197.92 L573.17,199.33 L573.51,200.72 L573.83,202.08 L574.16,203.41 L574.48,204.68 L574.79,205.90 L575.10,207.12 L575.41,208.35 L575.71,209.62 L576.00,210.93 L576.29,212.24 L576.58,213.58 L576.86,214.95 L577.14,216.37 L577.41,217.87 L577.67,219.44 L577.93,221.13 L578.19,222.89 L578.44,224.71 L578.68,226.58 L578.92,228.45 L579.15,230.34 L579.38,232.19 L579.60,234.00 L579.82,235.82 L580.02,237.71 L580.23,239.74 L580.42,241.93 L580.61,244.37 L580.80,247.13 L580.97,250.17 L581.14,253.46 L581.31,257.12 L581.46,261.25 L581.61,265.67 L581.75,270.21 L581.88,274.90 L582.01,280.26 L582.12,286.77 L582.22,295.89 L582.32,305.62 L582.40,315.84 L582.48,325.97 L582.54,335.29 L582.58,342.69 L582.60,346.50 L582.68,346.50 L582.71,135.93 L582.86,119.74 L583.18,118.27 L583.50,116.93 L583.81,115.76 L584.11,114.70 L584.42,113.71 L584.71,112.77 L585.01,111.85 L585.30,110.93 L585.58,110.01 L585.86,109.14 L586.14,108.30 L586.41,107.47 L586.68,106.63 L586.94,105.77 L587.20,104.87 L587.45,103.91 L587.70,102.93 L587.94,101.91 L588.18,100.86 L588.41,99.76 L588.64,98.61 L588.86,97.40 L589.08,96.13 L589.29,94.73 L589.50,93.22 L589.70,91.64 L589.89,90.01 L590.08,88.35 L590.27,86.68 L590.45,84.93 L590.62,83.04 L590.78,80.98 L590.94,78.67 L591.09,76.07 L591.24,73.20 L591.38,70.10 L591.51,66.64 L591.63,62.67 L591.74,58.42 L591.85,54.07 L591.95,49.59 L592.04,44.81 L592.12,39.74 L592.18,34.04 L592.24,28.44 L592.28,23.97 L592.30,21.70 L592.42,182.21 L592.68,196.48 L593.01,197.92 L593.34,199.33 L593.67,200.72 L593.98,202.08 L594.30,203.41 L594.61,204.68 L594.92,205.90 L595.22,207.12 L595.51,208.35 L595.80,209.62 L596.09,210.93 L596.37,212.24 L596.65,213.58 L596.92,214.95 L597.19,216.37 L597.46,217.87 L597.71,219.44 L597.97,221.13 L598.21,222.89 L598.46,224.71 L598.69,226.58 L598.92,228.45 L599.15,230.34 L599.37,232.19 L599.59,234.00 L599.79,235.82 L600.00,237.71 L600.20,239.74 L600.39,241.93 L600.57,244.37 L600.75,247.13 L600.92,250.17 L601.09,253.46 L601.24,257.12 L601.40,261.25 L601.54,265.67 L601.67,270.21 L601.80,274.90 L601.92,280.26 L602.03,286.77 L602.14,295.89 L602.23,305.62 L602.31,315.84 L602.38,325.97 L602.44,335.29 L602.48,342.69 L602.50,346.50 L602.58,346.50 L602.61,135.93 L602.76,119.74 L603.08,118.27 L603.40,116.93 L603.71,115.76 L604.01,114.70 L604.32,113.71 L604.61,112.77 L604.91,111.85 L605.20,110.93 L605.48,110.01 L605.76,109.14 L606.04,108.30 L606.31,107.47 L606.58,106.63 L606.84,105.77 L607.10,104.87 L607.35,103.91 L607.60,102.93 L607.84,101.91 L608.08,100.86 L608.31,99.76 L608.54,98.61 L608.76,97.40 L608.98,96.13 L609.19,94.73 L609.40,93.22 L609.60,91.64 L609.79,90.01 L609.98,88.35 L610.17,86.68 L610.35,84.93 L610.52,83.04 L610.68,80.98 L610.84,78.67 L610.99,76.07 L611.14,73.20 L611.28,70.10 L611.41,66.64 L611.53,62.67 L611.64,58.42 L611.75,54.07 L611.85,49.59 L611.94,44.81 L612.02,39.74 L612.08,34.04 L612.14,28.44 L612.18,23.97 L612.20,21.70 L612.32,182.21 L612.58,196.48 L612.91,197.92 L613.23,199.33 L613.55,200.72 L613.87,202.08 L614.18,203.41 L614.49,204.68 L614.79,205.90 L615.09,207.12 L615.38,208.35 L615.67,209.62 L615.95,210.93 L616.23,212.24 L616.51,213.58 L616.78,214.95 L617.04,216.37 L617.30,217.87 L617.56,219.44 L617.81,221.13 L618.06,222.89 L618.30,224.71 L618.53,226.58 L618.76,228.45 L618.98,230.34 L619.20,232.19 L619.41,234.00 L619.62,235.82 L619.82,237.71 L620.02,239.74 L620.21,241.93 L620.39,244.37 L620.57,247.13 L620.74,250.17 L620.90,253.46 L621.06,257.12 L621.21,261.25 L621.35,265.67 L621.48,270.21 L621.61,274.90 L621.73,280.26 L621.84,286.77 L621.94,295.89 L622.03,305.62 L622.11,315.84 L622.18,325.97 L622.24,335.29 L622.28,342.69 L622.30,346.50 L622.38,346.50 L622.41,135.93 L622.56,119.74 L622.88,118.27 L623.20,116.93 L623.52,115.76 L623.83,114.70 L624.13,113.71 L624.43,112.77 L624.73,111.85 L625.02,110.93 L625.31,110.01 L625.60,109.14 L625.87,108.30 L626.15,107.47 L626.42,106.63 L626.68,105.77 L626.94,104.87 L627.20,103.91 L627.45,102.93 L627.70,101.91 L627.94,100.86 L628.17,99.76 L628.40,98.61 L628.63,97.40 L628.85,96.13 L629.06,94.73 L629.27,93.22 L629.47,91.64 L629.67,90.01 L629.86,88.35 L630.05,86.68 L630.23,84.93 L630.40,83.04 L630.57,80.98 L630.73,78.67 L630.88,76.07 L631.03,73.20 L631.17,70.10 L631.30,66.64 L631.42,62.67 L631.54,58.42 L631.65,54.07 L631.75,49.59 L631.84,44.81 L631.91,39.74 L631.98,34.04 L632.04,28.44 L632.08,23.97 L632.10,21.70 L632.22,182.21 L632.48,196.48 L632.81,197.92 L633.13,199.33 L633.45,200.72 L633.77,202.08 L634.08,203.41 L634.39,204.68 L634.69,205.90 L634.99,207.12 L635.28,208.35 L635.57,209.62 L635.85,210.93 L636.13,212.24 L636.41,213.58 L636.68,214.95 L636.94,216.37 L637.20,217.87 L637.46,219.44 L637.71,221.13 L637.96,222.89 L638.20,224.71 L638.43,226.58 L638.66,228.45 L638.88,230.34 L639.10,232.19 L639.31,234.00 L639.52,235.82 L639.72,237.71 L639.92,239.74 L640.11,241.93 L640.29,244.37 L640.47,247.13 L640.64,250.17 L640.80,253.46 L640.96,257.12 L641.11,261.25 L641.25,265.67 L641.38,270.21 L641.51,274.90 L641.63,280.26 L641.74,286.77 L641.84,295.89 L641.93,305.62 L642.01,315.84 L642.08,325.97 L642.14,335.29 L642.18,342.69 L642.20,346.50 L642.28,346.50 L642.31,135.93 L642.46,119.74 L642.77,118.27 L643.08,116.93 L643.38,115.76 L643.67,114.70 L643.97,113.71 L644.26,112.77 L644.54,111.85 L644.82,110.93 L645.10,110.01 L645.37,109.14 L645.64,108.30 L645.90,107.47 L646.16,106.63 L646.41,105.77 L646.66,104.87 L646.90,103.91 L647.14,102.93 L647.38,101.91 L647.61,100.86 L647.84,99.76 L648.06,98.61 L648.27,97.40 L648.48,96.13 L648.69,94.73 L648.89,93.22 L649.08,91.64 L649.27,90.01 L649.45,88.35 L649.63,86.68 L649.80,84.93 L649.97,83.04 L650.13,80.98 L650.28,78.67 L650.43,76.07 L650.57,73.20 L650.71,70.10 L650.83,66.64 L650.95,62.67 L651.06,58.42 L651.17,54.07 L651.26,49.59 L651.35,44.81 L651.42,39.74 L651.49,34.04 L651.54,28.44 L651.58,23.97 L651.60,21.70 L651.72,182.21 L651.99,196.48 L652.34,197.92 L652.67,199.33 L653.01,200.72 L653.33,202.08 L653.66,203.41 L653.98,204.68 L654.29,205.90 L654.60,207.12 L654.91,208.35 L655.21,209.62 L655.50,210.93 L655.79,212.24 L656.08,213.58 L656.36,214.95 L656.64,216.37 L656.91,217.87 L657.17,219.44 L657.43,221.13 L657.69,222.89 L657.94,224.71 L658.18,226.58 L658.42,228.45 L658.65,230.34 L658.88,232.19 L659.10,234.00 L659.32,235.82 L659.52,237.71 L659.73,239.74 L659.92,241.93 L660.11,244.37 L660.30,247.13 L660.47,250.17 L660.64,253.46 L660.81,257.12 L660.96,261.25 L661.11,265.67 L661.25,270.21 L661.38,274.90 L661.51,280.26 L661.62,286.77 L661.72,295.89 L661.82,305.62 L661.90,315.84 L661.98,325.97 L662.04,335.29 L662.08,342.69 L662.10,346.50 L662.18,346.50 L662.21,135.93 L662.36,119.74 L662.67,118.27 L662.98,116.93 L663.28,115.76 L663.57,114.70 L663.87,113.71 L664.16,112.77 L664.44,111.85 L664.72,110.93 L665.00,110.01 L665.27,109.14 L665.54,108.30 L665.80,107.47 L666.06,106.63 L666.31,105.77 L666.56,104.87 L666.80,103.91 L667.04,102.93 L667.28,101.91 L667.51,100.86 L667.74,99.76 L667.96,98.61 L668.17,97.40 L668.38,96.13 L668.59,94.73 L668.79,93.22 L668.98,91.64 L669.17,90.01 L669.35,88.35 L669.53,86.68 L669.70,84.93 L669.87,83.04 L670.03,80.98 L670.18,78.67 L670.33,76.07 L670.47,73.20 L670.61,70.10 L670.73,66.64 L670.85,62.67 L670.96,58.42 L671.07,54.07 L671.16,49.59 L671.25,44.81 L671.32,39.74 L671.39,34.04 L671.44,28.44 L671.48,23.97 L671.50,21.70 L671.62,182.21 L671.88,196.48 L672.21,197.92 L672.53,199.33 L672.85,200.72 L673.17,202.08 L673.48,203.41 L673.79,204.68 L674.09,205.90 L674.39,207.12 L674.68,208.35 L674.97,209.62 L675.25,210.93 L675.53,212.24 L675.81,213.58 L676.08,214.95 L676.34,216.37 L676.60,217.87 L676.86,219.44 L677.11,221.13 L677.36,222.89 L677.60,224.71 L677.83,226.58 L678.06,228.45 L678.28,230.34 L678.50,232.19 L678.71,234.00 L678.92,235.82 L679.12,237.71 L679.32,239.74 L679.51,241.93 L679.69,244.37 L679.87,247.13 L680.04,250.17 L680.20,253.46 L680.36,257.12 L680.51,261.25 L680.65,265.67 L680.78,270.21 L680.91,274.90 L681.03,280.26 L681.14,286.77 L681.24,295.89 L681.33,305.62 L681.41,315.84 L681.48,325.97 L681.54,335.29 L681.58,342.69 L681.60,346.50 L681.68,346.50 L681.71,135.93 L681.86,119.74 L682.16,118.27 L682.45,116.93 L682.74,115.76 L683.02,114.70 L683.30,113.71 L683.58,112.77 L683.85,111.85 L684.12,110.93 L684.38,110.01 L684.64,109.14 L684.90,108.30 L685.15,107.47 L685.39,106.63 L685.64,105.77 L685.88,104.87 L686.11,103.91 L686.34,102.93 L686.56,101.91 L686.78,100.86 L687.00,99.76 L687.21,98.61 L687.42,97.40 L687.62,96.13 L687.81,94.73 L688.01,93.22 L688.19,91.64 L688.37,90.01 L688.55,88.35 L688.72,86.68 L688.88,84.93 L689.04,83.04 L689.19,80.98 L689.34,78.67 L689.48,76.07 L689.62,73.20 L689.74,70.10 L689.87,66.64 L689.98,62.67 L690.09,58.42 L690.18,54.07 L690.28,49.59 L690.36,44.81 L690.43,39.74 L690.49,34.04 L690.54,28.44 L690.58,23.97 L690.60,21.70 L690.72,182.21 L690.99,196.48 L691.34,197.92 L691.67,199.33 L692.01,200.72 L692.33,202.08 L692.66,203.41 L692.98,204.68 L693.29,205.90 L693.60,207.12 L693.91,208.35 L694.21,209.62 L694.50,210.93 L694.79,212.24 L695.08,213.58 L695.36,214.95 L695.64,216.37 L695.91,217.87 L696.17,219.44 L696.43,221.13 L696.69,222.89 L696.94,224.71 L697.18,226.58 L697.42,228.45 L697.65,230.34 L697.88,232.19 L698.10,234.00 L698.32,235.82 L698.52,237.71 L698.73,239.74 L698.92,241.93 L699.11,244.37 L699.30,247.13 L699.47,250.17 L699.64,253.46 L699.81,257.12 L699.96,261.25 L700.11,265.67 L700.25,270.21 L700.38,274.90 L700.51,280.26 L700.62,286.77 L700.72,295.89 L700.82,305.62 L700.90,315.84 L700.98,325.97 L701.04,335.29 L701.08,342.69 L701.10,346.50 L701.18,346.50 L701.21,135.93 L701.36,119.74 L701.66,118.27 L701.95,116.93 L702.24,115.76 L702.52,114.70 L702.80,113.71 L703.08,112.77 L703.35,111.85 L703.62,110.93 L703.88,110.01 L704.14,109.14 L704.40,108.30 L704.65,107.47 L704.89,106.63 L705.14,105.77 L705.38,104.87 L705.61,103.91 L705.84,102.93 L706.06,101.91 L706.28,100.86 L706.50,99.76 L706.71,98.61 L706.92,97.40 L707.12,96.13 L707.31,94.73 L707.51,93.22 L707.69,91.64 L707.87,90.01 L708.05,88.35 L708.22,86.68 L708.38,84.93 L708.54,83.04 L708.69,80.98 L708.84,78.67 L708.98,76.07 L709.12,73.20 L709.24,70.10 L709.37,66.64 L709.48,62.67 L709.59,58.42 L709.68,54.07 L709.78,49.59 L709.86,44.81 L709.93,39.74 L709.99,34.04 L710.04,28.44 L710.08,23.97 L710.10,21.70 L710.22,182.21 L710.49,196.48 L710.84,197.92 L711.17,199.33 L711.51,200.72 L711.83,202.08 L712.16,203.41 L712.48,204.68 L712.79,205.90 L713.10,207.12 L713.41,208.35 L713.71,209.62 L714.00,210.93 L714.29,212.24 L714.58,213.58 L714.86,214.95 L715.14,216.37 L715.41,217.87 L715.67,219.44 L715.93,221.13 L716.19,222.89 L716.44,224.71 L716.68,226.58 L716.92,228.45 L717.15,230.34 L717.38,232.19 L717.60,234.00 L717.82,235.82 L718.02,237.71 L718.23,239.74 L718.42,241.93 L718.61,244.37 L718.80,247.13 L718.97,250.17 L719.14,253.46 L719.31,257.12 L719.46,261.25 L719.61,265.67 L719.75,270.21 L719.88,274.90 L720.01,280.26 L720.12,286.77 L720.22,295.89 L720.32,305.62 L720.40,315.84 L720.48,325.97 L720.54,335.29 L720.58,342.69 L720.60,346.50" fill="none" stroke="#e01818" stroke-width="2.10" stroke-linejoin="round"/>
<g stroke="#222222" stroke-width="2.20" fill="none" stroke-linecap="butt">
<line x1="125.80" y1="0.2" x2="125.80" y2="512.80"/>
<line x1="114.80" y1="502.30" x2="737" y2="502.30"/>
<line x1="114.80" y1="502.30" x2="125.80" y2="502.30"/>
<line x1="114.80" y1="425.17" x2="125.80" y2="425.17"/>
<line x1="114.80" y1="348.04" x2="125.80" y2="348.04"/>
<line x1="114.80" y1="270.91" x2="125.80" y2="270.91"/>
<line x1="114.80" y1="193.78" x2="125.80" y2="193.78"/>
<line x1="114.80" y1="116.65" x2="125.80" y2="116.65"/>
<line x1="114.80" y1="39.52" x2="125.80" y2="39.52"/>
<line x1="120.30" y1="463.74" x2="125.80" y2="463.74"/>
<line x1="120.30" y1="386.61" x2="125.80" y2="386.61"/>
<line x1="120.30" y1="309.48" x2="125.80" y2="309.48"/>
<line x1="120.30" y1="232.35" x2="125.80" y2="232.35"/>
<line x1="120.30" y1="155.22" x2="125.80" y2="155.22"/>
<line x1="120.30" y1="78.08" x2="125.80" y2="78.08"/>
<line x1="120.30" y1="0.95" x2="125.80" y2="0.95"/>
<line x1="125.80" y1="502.30" x2="125.80" y2="512.80"/>
<line x1="271.15" y1="502.30" x2="271.15" y2="512.80"/>
<line x1="416.50" y1="502.30" x2="416.50" y2="512.80"/>
<line x1="561.85" y1="502.30" x2="561.85" y2="512.80"/>
<line x1="707.20" y1="502.30" x2="707.20" y2="512.80"/>
<line x1="198.47" y1="502.30" x2="198.47" y2="507.50"/>
<line x1="343.82" y1="502.30" x2="343.82" y2="507.50"/>
<line x1="489.18" y1="502.30" x2="489.18" y2="507.50"/>
<line x1="634.52" y1="502.30" x2="634.52" y2="507.50"/>
</g>
<line x1="125.8" y1="345.34" x2="125.8" y2="118.58" stroke="#763434" stroke-width="2.2"/>
<line x1="127.3" y1="345.34" x2="127.3" y2="118.58" stroke="#e01818" stroke-width="0.9" stroke-opacity="0.45"/>
<g font-family="Liberation Serif" font-size="34" fill="#000" text-anchor="end">
<text x="108.7" y="514.30">0.0</text>
<text x="108.7" y="437.17">0.2</text>
<text x="108.7" y="360.04">0.4</text>
<text x="108.7" y="282.91">0.6</text>
<text x="108.7" y="205.78">0.8</text>
<text x="108.7" y="128.65">1.0</text>
<text x="108.7" y="51.52">1.2</text>
</g>
<g font-family="Liberation Serif" font-size="34" fill="#000" text-anchor="middle">
<text x="125.80" y="545">0</text>
<text x="271.15" y="545">5</text>
<text x="416.50" y="545">10</text>
<text x="561.85" y="545">15</text>
<text x="707.20" y="545">20</text>
</g>
<text x="716.6" y="96.4" font-family="Liberation Serif" font-size="27.7" fill="#000">1.03 V</text>
<text x="718.3" y="205.5" font-family="Liberation Serif" font-size="27.9" fill="#000">0.75 V</text>
<text x="430.6" y="600.9" font-family="Liberation Serif" font-weight="bold" font-size="37" letter-spacing="0.9" fill="#000" text-anchor="middle">time, h</text>
<text transform="translate(27.2,274.3) rotate(-90)" font-family="Liberation Serif" font-weight="bold" font-size="40" fill="#000" text-anchor="middle">Potential, V</text>
<path d="M125.70,759.28 L125.80,759.08 L126.63,757.33 L127.44,755.44 L128.21,753.38 L128.95,751.07 L129.66,748.47 L130.34,745.60 L130.98,742.50 L131.59,739.04 L132.17,735.07 L132.71,730.82 L133.20,726.47 L133.66,721.99 L134.08,717.21 L134.44,712.14 L134.76,706.44 L135.02,700.84 L135.21,696.37 L135.30,694.10 L135.80,854.61 L136.90,868.88 L138.30,870.32 L139.67,871.73 L141.03,873.12 L142.37,874.48 L143.69,875.81 L144.99,877.08 L146.27,878.30 L147.54,879.52 L148.78,880.75 L150.01,882.02 L151.21,883.33 L152.40,884.64 L153.56,885.98 L154.70,887.35 L155.83,888.77 L156.93,890.27 L158.01,891.84 L159.07,893.53 L160.11,895.29 L161.13,897.11 L162.12,898.98 L163.10,900.85 L164.04,902.74 L164.97,904.59 L165.87,906.40 L166.75,908.22 L167.60,910.11 L168.43,912.14 L169.23,914.33 L170.00,916.77 L170.75,919.53 L171.47,922.57 L172.17,925.86 L172.83,929.52 L173.46,933.65 L174.07,938.07 L174.64,942.61 L175.17,947.30 L175.68,952.66 L176.14,959.17 L176.57,968.29 L176.96,977.85 L177.30,987.66 L177.60,997.43 L177.84,1006.46 L178.01,1013.65 L178.10,1017.35 L178.45,1017.35 L178.55,808.33 L179.20,792.14 L180.70,790.67 L182.18,789.33 L183.64,788.16 L185.08,787.10 L186.50,786.11 L187.90,785.17 L189.28,784.25 L190.63,783.33 L191.97,782.41 L193.29,781.54 L194.58,780.70 L195.86,779.87 L197.11,779.03 L198.34,778.17 L199.55,777.27 L200.74,776.31 L201.90,775.33 L203.04,774.31 L204.16,773.26 L205.25,772.16 L206.32,771.01 L207.37,769.80 L208.39,768.53 L209.38,767.13 L210.35,765.62 L211.29,764.04 L212.21,762.41 L213.10,760.75 L213.96,759.08 L214.80,757.33 L215.60,755.44 L216.37,753.38 L217.12,751.07 L217.83,748.47 L218.51,745.60 L219.16,742.50 L219.78,739.04 L220.35,735.07 L220.89,730.82 L221.40,726.47 L221.86,721.99 L222.27,717.21 L222.64,712.14 L222.96,706.44 L223.22,700.84 L223.41,696.37 L223.50,694.10 L224.00,854.61 L225.09,868.88 L226.47,870.32 L227.83,871.73 L229.18,873.12 L230.50,874.48 L231.81,875.81 L233.10,877.08 L234.37,878.30 L235.62,879.52 L236.85,880.75 L238.07,882.02 L239.26,883.33 L240.44,884.64 L241.59,885.98 L242.72,887.35 L243.84,888.77 L244.93,890.27 L246.00,891.84 L247.05,893.53 L248.08,895.29 L249.09,897.11 L250.07,898.98 L251.04,900.85 L251.98,902.74 L252.89,904.59 L253.79,906.40 L254.65,908.22 L255.50,910.11 L256.32,912.14 L257.11,914.33 L257.88,916.77 L258.62,919.53 L259.34,922.57 L260.02,925.86 L260.68,929.52 L261.31,933.65 L261.90,938.07 L262.47,942.61 L263.00,947.30 L263.50,952.66 L263.96,959.17 L264.38,968.29 L264.77,977.85 L265.11,987.66 L265.40,997.43 L265.64,1006.46 L265.81,1013.65 L265.90,1017.35 L266.25,1017.35 L266.35,808.33 L267.00,792.14 L268.50,790.67 L269.97,789.33 L271.43,788.16 L272.86,787.10 L274.28,786.11 L275.68,785.17 L277.05,784.25 L278.41,783.33 L279.74,782.41 L281.06,781.54 L282.35,780.70 L283.62,779.87 L284.87,779.03 L286.10,778.17 L287.31,777.27 L288.49,776.31 L289.65,775.33 L290.79,774.31 L291.90,773.26 L292.99,772.16 L294.06,771.01 L295.10,769.80 L296.12,768.53 L297.11,767.13 L298.08,765.62 L299.02,764.04 L299.94,762.41 L300.82,760.75 L301.68,759.08 L302.51,757.33 L303.32,755.44 L304.09,753.38 L304.83,751.07 L305.55,748.47 L306.23,745.60 L306.87,742.50 L307.48,739.04 L308.06,735.07 L308.60,730.82 L309.10,726.47 L309.56,721.99 L309.97,717.21 L310.34,712.14 L310.66,706.44 L310.92,700.84 L311.11,696.37 L311.20,694.10 L311.70,854.61 L312.79,868.88 L314.17,870.32 L315.53,871.73 L316.88,873.12 L318.20,874.48 L319.51,875.81 L320.80,877.08 L322.07,878.30 L323.32,879.52 L324.55,880.75 L325.77,882.02 L326.96,883.33 L328.14,884.64 L329.29,885.98 L330.42,887.35 L331.54,888.77 L332.63,890.27 L333.70,891.84 L334.75,893.53 L335.78,895.29 L336.79,897.11 L337.77,898.98 L338.74,900.85 L339.68,902.74 L340.59,904.59 L341.49,906.40 L342.35,908.22 L343.20,910.11 L344.02,912.14 L344.81,914.33 L345.58,916.77 L346.32,919.53 L347.04,922.57 L347.72,925.86 L348.38,929.52 L349.01,933.65 L349.60,938.07 L350.17,942.61 L350.70,947.30 L351.20,952.66 L351.66,959.17 L352.08,968.29 L352.47,977.85 L352.81,987.66 L353.10,997.43 L353.34,1006.46 L353.51,1013.65 L353.60,1017.35 L353.95,1017.35 L354.05,808.33 L354.70,792.14 L356.20,790.67 L357.68,789.33 L359.14,788.16 L360.58,787.10 L362.00,786.11 L363.40,785.17 L364.78,784.25 L366.13,783.33 L367.47,782.41 L368.79,781.54 L370.08,780.70 L371.36,779.87 L372.61,779.03 L373.84,778.17 L375.05,777.27 L376.24,776.31 L377.40,775.33 L378.54,774.31 L379.66,773.26 L380.75,772.16 L381.82,771.01 L382.87,769.80 L383.89,768.53 L384.88,767.13 L385.85,765.62 L386.79,764.04 L387.71,762.41 L388.60,760.75 L389.46,759.08 L390.30,757.33 L391.10,755.44 L391.87,753.38 L392.62,751.07 L393.33,748.47 L394.01,745.60 L394.66,742.50 L395.28,739.04 L395.85,735.07 L396.39,730.82 L396.90,726.47 L397.36,721.99 L397.77,717.21 L398.14,712.14 L398.46,706.44 L398.72,700.84 L398.91,696.37 L399.00,694.10 L399.50,854.61 L400.60,868.88 L401.99,870.32 L403.36,871.73 L404.72,873.12 L406.05,874.48 L407.37,875.81 L408.67,877.08 L409.95,878.30 L411.21,879.52 L412.45,880.75 L413.67,882.02 L414.87,883.33 L416.06,884.64 L417.22,885.98 L418.36,887.35 L419.48,888.77 L420.58,890.27 L421.66,891.84 L422.72,893.53 L423.76,895.29 L424.77,897.11 L425.76,898.98 L426.73,900.85 L427.68,902.74 L428.60,904.59 L429.50,906.40 L430.38,908.22 L431.23,910.11 L432.05,912.14 L432.85,914.33 L433.62,916.77 L434.37,919.53 L435.09,922.57 L435.78,925.86 L436.44,929.52 L437.07,933.65 L437.68,938.07 L438.24,942.61 L438.78,947.30 L439.28,952.66 L439.75,959.17 L440.17,968.29 L440.56,977.85 L440.90,987.66 L441.20,997.43 L441.44,1006.46 L441.61,1013.65 L441.70,1017.35 L442.05,1017.35 L442.15,808.33 L442.80,792.14 L444.28,790.67 L445.75,789.33 L447.20,788.16 L448.62,787.10 L450.03,786.11 L451.42,785.17 L452.78,784.25 L454.13,783.33 L455.46,782.41 L456.76,781.54 L458.05,780.70 L459.31,779.87 L460.55,779.03 L461.77,778.17 L462.97,777.27 L464.14,776.31 L465.30,775.33 L466.43,774.31 L467.53,773.26 L468.62,772.16 L469.68,771.01 L470.71,769.80 L471.72,768.53 L472.71,767.13 L473.67,765.62 L474.60,764.04 L475.51,762.41 L476.39,760.75 L477.25,759.08 L478.07,757.33 L478.87,755.44 L479.64,753.38 L480.38,751.07 L481.08,748.47 L481.76,745.60 L482.40,742.50 L483.01,739.04 L483.58,735.07 L484.12,730.82 L484.61,726.47 L485.07,721.99 L485.48,717.21 L485.85,712.14 L486.16,706.44 L486.42,700.84 L486.61,696.37 L486.70,694.10 L487.20,854.61 L488.27,868.88 L489.64,870.32 L490.99,871.73 L492.32,873.12 L493.64,874.48 L494.93,875.81 L496.21,877.08 L497.47,878.30 L498.71,879.52 L499.93,880.75 L501.13,882.02 L502.31,883.33 L503.48,884.64 L504.62,885.98 L505.74,887.35 L506.85,888.77 L507.93,890.27 L508.99,891.84 L510.03,893.53 L511.05,895.29 L512.05,897.11 L513.02,898.98 L513.98,900.85 L514.91,902.74 L515.82,904.59 L516.70,906.40 L517.56,908.22 L518.40,910.11 L519.21,912.14 L520.00,914.33 L520.76,916.77 L521.49,919.53 L522.20,922.57 L522.88,925.86 L523.53,929.52 L524.15,933.65 L524.74,938.07 L525.30,942.61 L525.83,947.30 L526.32,952.66 L526.78,959.17 L527.20,968.29 L527.58,977.85 L527.92,987.66 L528.20,997.43 L528.44,1006.46 L528.61,1013.65 L528.70,1017.35 L529.05,1017.35 L529.15,808.33 L529.80,792.14 L531.28,790.67 L532.74,789.33 L534.19,788.16 L535.61,787.10 L537.01,786.11 L538.40,785.17 L539.76,784.25 L541.10,783.33 L542.43,782.41 L543.73,781.54 L545.01,780.70 L546.27,779.87 L547.51,779.03 L548.73,778.17 L549.92,777.27 L551.09,776.31 L552.24,775.33 L553.37,774.31 L554.48,773.26 L555.56,772.16 L556.61,771.01 L557.65,769.80 L558.66,768.53 L559.64,767.13 L560.60,765.62 L561.53,764.04 L562.44,762.41 L563.32,760.75 L564.17,759.08 L564.99,757.33 L565.79,755.44 L566.56,753.38 L567.29,751.07 L568.00,748.47 L568.67,745.60 L569.31,742.50 L569.92,739.04 L570.49,735.07 L571.02,730.82 L571.52,726.47 L571.97,721.99 L572.39,717.21 L572.75,712.14 L573.06,706.44 L573.32,700.84 L573.51,696.37 L573.60,694.10 L574.10,854.61 L575.19,868.88 L576.58,870.32 L577.94,871.73 L579.29,873.12 L580.62,874.48 L581.93,875.81 L583.22,877.08 L584.50,878.30 L585.75,879.52 L586.99,880.75 L588.20,882.02 L589.40,883.33 L590.58,884.64 L591.73,885.98 L592.87,887.35 L593.99,888.77 L595.08,890.27 L596.15,891.84 L597.21,893.53 L598.24,895.29 L599.25,897.11 L600.24,898.98 L601.20,900.85 L602.14,902.74 L603.06,904.59 L603.96,906.40 L604.83,908.22 L605.67,910.11 L606.50,912.14 L607.29,914.33 L608.06,916.77 L608.80,919.53 L609.52,922.57 L610.21,925.86 L610.87,929.52 L611.50,933.65 L612.09,938.07 L612.66,942.61 L613.19,947.30 L613.69,952.66 L614.16,959.17 L614.58,968.29 L614.97,977.85 L615.31,987.66 L615.60,997.43 L615.84,1006.46 L616.01,1013.65 L616.10,1017.35 L616.45,1017.35 L616.55,808.33 L617.20,792.14 L618.68,790.67 L620.14,789.33 L621.59,788.16 L623.01,787.10 L624.41,786.11 L625.80,785.17 L627.16,784.25 L628.50,783.33 L629.83,782.41 L631.13,781.54 L632.41,780.70 L633.67,779.87 L634.91,779.03 L636.13,778.17 L637.32,777.27 L638.49,776.31 L639.64,775.33 L640.77,774.31 L641.88,773.26 L642.96,772.16 L644.01,771.01 L645.05,769.80 L646.06,768.53 L647.04,767.13 L648.00,765.62 L648.93,764.04 L649.84,762.41 L650.72,760.75 L651.57,759.08 L652.39,757.33 L653.19,755.44 L653.96,753.38 L654.69,751.07 L655.40,748.47 L656.07,745.60 L656.71,742.50 L657.32,739.04 L657.89,735.07 L658.42,730.82 L658.92,726.47 L659.37,721.99 L659.79,717.21 L660.15,712.14 L660.46,706.44 L660.72,700.84 L660.91,696.37 L661.00,694.10 L661.50,854.61 L662.60,868.88 L664.00,870.32 L665.37,871.73 L666.73,873.12 L668.07,874.48 L669.39,875.81 L670.69,877.08 L671.97,878.30 L673.24,879.52 L674.48,880.75 L675.71,882.02 L676.91,883.33 L678.10,884.64 L679.26,885.98 L680.40,887.35 L681.53,888.77 L682.63,890.27 L683.71,891.84 L684.77,893.53 L685.81,895.29 L686.83,897.11 L687.82,898.98 L688.80,900.85 L689.74,902.74 L690.67,904.59 L691.57,906.40 L692.45,908.22 L693.30,910.11 L694.13,912.14 L694.93,914.33 L695.70,916.77 L696.45,919.53 L697.17,922.57 L697.87,925.86 L698.53,929.52 L699.16,933.65 L699.77,938.07 L700.34,942.61 L700.87,947.30 L701.38,952.66 L701.84,959.17 L702.27,968.29 L702.66,977.85 L703.00,987.66 L703.30,997.43 L703.54,1006.46 L703.71,1013.65 L703.80,1017.35 L704.15,1017.35 L704.25,808.33 L704.90,792.14 L706.32,790.67 L707.72,789.33 L709.11,788.16 L710.47,787.10 L711.82,786.11 L713.14,785.17 L714.45,784.25 L715.74,783.33 L717.01,782.41 L718.26,781.54 L719.49,780.70 L720.69,779.87 L721.88,779.03 L723.05,778.17 L724.19,777.27 L725.32,776.31 L726.42,775.33 L727.50,774.31 L728.56,773.26 L729.60,772.16 L730.61,771.01 L731.60,769.80 L732.57,768.53 L733.51,767.13 L734.43,765.62 L735.33,764.04 L736.20,762.41 L736.30,762.20" fill="none" stroke="#e01818" stroke-width="2.10" stroke-linejoin="round"/>
<g stroke="#222222" stroke-width="2.20" fill="none">
<line x1="125.70" y1="673" x2="125.70" y2="1185.20"/>
<line x1="114.70" y1="1174.70" x2="737.5" y2="1174.70"/>
<line x1="114.70" y1="1174.70" x2="125.70" y2="1174.70"/>
<line x1="114.70" y1="1097.57" x2="125.70" y2="1097.57"/>
<line x1="114.70" y1="1020.44" x2="125.70" y2="1020.44"/>
<line x1="114.70" y1="943.31" x2="125.70" y2="943.31"/>
<line x1="114.70" y1="866.18" x2="125.70" y2="866.18"/>
<line x1="114.70" y1="789.05" x2="125.70" y2="789.05"/>
<line x1="114.70" y1="711.92" x2="125.70" y2="711.92"/>
<line x1="120.20" y1="1136.13" x2="125.70" y2="1136.13"/>
<line x1="120.20" y1="1059.01" x2="125.70" y2="1059.01"/>
<line x1="120.20" y1="981.88" x2="125.70" y2="981.88"/>
<line x1="120.20" y1="904.75" x2="125.70" y2="904.75"/>
<line x1="120.20" y1="827.62" x2="125.70" y2="827.62"/>
<line x1="120.20" y1="750.49" x2="125.70" y2="750.49"/>
<line x1="120.20" y1="673.36" x2="125.70" y2="673.36"/>
<line x1="125.70" y1="1174.70" x2="125.70" y2="1185.20"/>
<line x1="247.80" y1="1174.70" x2="247.80" y2="1185.20"/>
<line x1="369.90" y1="1174.70" x2="369.90" y2="1185.20"/>
<line x1="492.00" y1="1174.70" x2="492.00" y2="1185.20"/>
<line x1="614.10" y1="1174.70" x2="614.10" y2="1185.20"/>
<line x1="736.20" y1="1174.70" x2="736.20" y2="1185.20"/>
<line x1="186.75" y1="1174.70" x2="186.75" y2="1179.90"/>
<line x1="308.85" y1="1174.70" x2="308.85" y2="1179.90"/>
<line x1="430.95" y1="1174.70" x2="430.95" y2="1179.90"/>
<line x1="553.05" y1="1174.70" x2="553.05" y2="1179.90"/>
<line x1="675.15" y1="1174.70" x2="675.15" y2="1179.90"/>
</g>
<g font-family="Liberation Serif" font-size="34" fill="#000" text-anchor="end">
<text x="108.7" y="1186.70">0.0</text>
<text x="108.7" y="1109.57">0.2</text>
<text x="108.7" y="1032.44">0.4</text>
<text x="108.7" y="955.31">0.6</text>
<text x="108.7" y="878.18">0.8</text>
<text x="108.7" y="801.05">1.0</text>
<text x="108.7" y="723.92">1.2</text>
</g>
<g font-family="Liberation Serif" font-size="34" fill="#000" text-anchor="middle">
<text x="125.70" y="1217.40">5</text>
<text x="247.80" y="1217.40">6</text>
<text x="369.90" y="1217.40">7</text>
<text x="492.00" y="1217.40">8</text>
<text x="614.10" y="1217.40">9</text>
<text x="736.20" y="1217.40">10</text>
</g>
<text x="430.6" y="1273.5" font-family="Liberation Serif" font-weight="bold" font-size="37" letter-spacing="0.9" fill="#000" text-anchor="middle">time, h</text>
<text transform="translate(27.2,946.4) rotate(-90)" font-family="Liberation Serif" font-weight="bold" font-size="40" fill="#000" text-anchor="middle">Potential, V</text>
</svg>
</body></html>
